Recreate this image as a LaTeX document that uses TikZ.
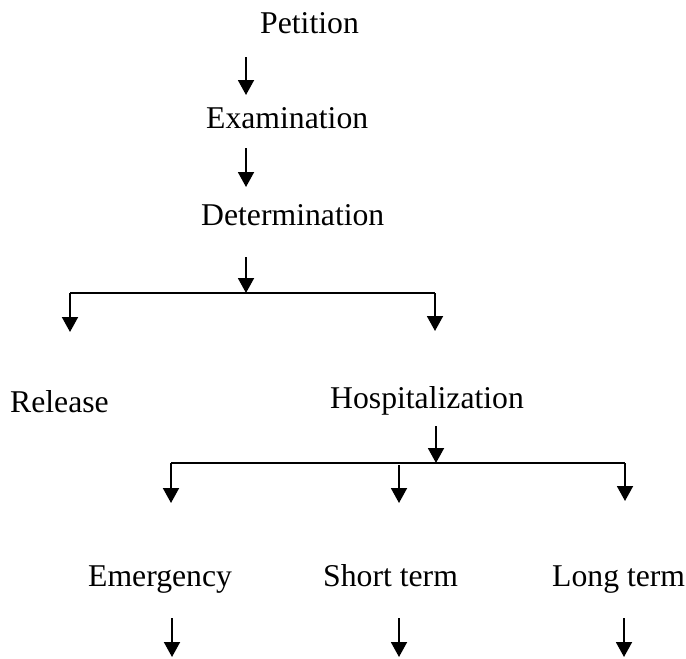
\documentclass[tikz,border=0pt]{standalone}
\usepackage{fontspec}
\setmainfont{Liberation Serif}
\usetikzlibrary{arrows.meta}
\begin{document}
\begin{tikzpicture}[x=1pt,y=-1pt,
  lbl/.style={anchor=base west,inner sep=0pt,font=\fontsize{31.7}{38}\selectfont},
  conn/.style={line width=1.9pt,black},
  arr/.style={conn,-{Triangle[width=16pt,length=15pt]}}]
\useasboundingbox (0,0) rectangle (686,659);
% labels
\node[lbl] (pet) at (260,33) {Petition};
\node[lbl] (exa) at (206,128) {Examination};
\node[lbl] (det) at (201,225) {Determination};
\node[lbl] (rel) at (10,412) {Release};
\node[lbl] (hos) at (330,408) {Hospitalization};
\node[lbl] (eme) at (88,586) {Emergency};
\node[lbl] (sho) at (323,586) {Short term};
\node[lbl] (lon) at (552,586) {Long term};
% arrow end points
\coordinate (a1s) at (246,57);  \coordinate (a1e) at (246,95);
\coordinate (a2s) at (246,148); \coordinate (a2e) at (246,187);
\coordinate (a3s) at (246,257); \coordinate (a3e) at (246,293);
\coordinate (b1l) at (70,293);  \coordinate (b1r) at (435,293);
\coordinate (b1le) at (70,332); \coordinate (b1re) at (435,331);
\coordinate (a4s) at (436,426); \coordinate (a4e) at (436,463);
\coordinate (b2l) at (171,463); \coordinate (b2r) at (625,463);
\coordinate (b2le) at (171,503); \coordinate (b2re) at (625,501);
\coordinate (b2ms) at (399,465); \coordinate (b2me) at (399,503);
\coordinate (c1s) at (172,618); \coordinate (c1e) at (172,657);
\coordinate (c2s) at (399,618); \coordinate (c2e) at (399,657);
\coordinate (c3s) at (624,618); \coordinate (c3e) at (624,657);
% connectors
\draw[arr] (a1s) -- (a1e);
\draw[arr] (a2s) -- (a2e);
\draw[arr] (a3s) -- (a3e);
\draw[conn] (b1l) -- (b1r);
\draw[arr] (b1l) -- (b1le);
\draw[arr] (b1r) -- (b1re);
\draw[arr] (a4s) -- (a4e);
\draw[conn] (b2l) -- (b2r);
\draw[arr] (b2l) -- (b2le);
\draw[arr] (b2r) -- (b2re);
\draw[arr] (b2ms) -- (b2me);
\draw[arr] (c1s) -- (c1e);
\draw[arr] (c2s) -- (c2e);
\draw[arr] (c3s) -- (c3e);
\end{tikzpicture}
\end{document}
